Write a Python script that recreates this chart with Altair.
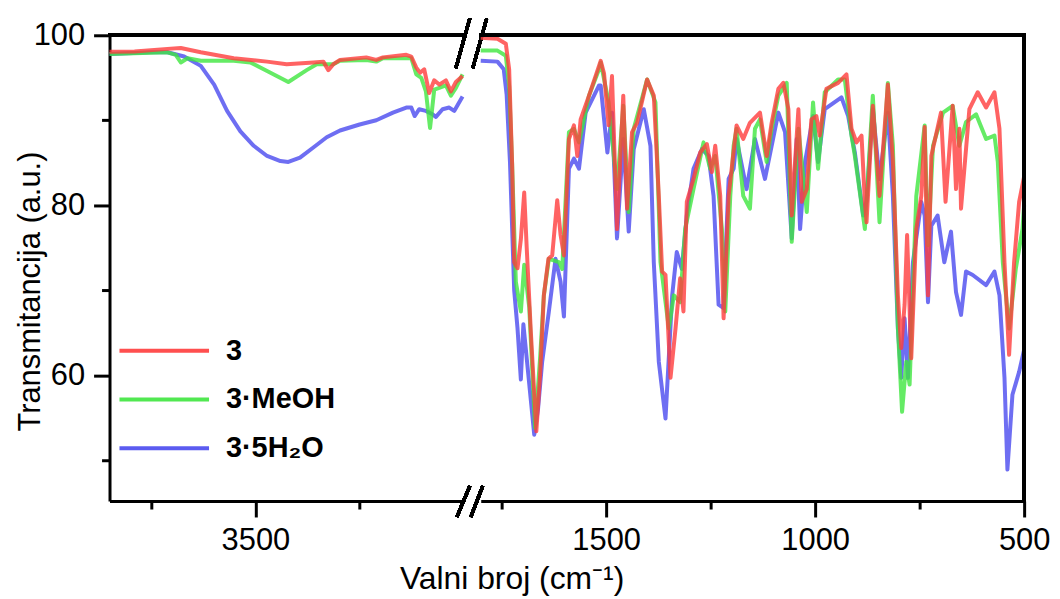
import altair as alt
import pandas as pd

FONT = "Liberation Sans"
SERIES = ["3", "3·MeOH", "3·5H₂O"]
COLORS = ["#ff3c3c", "#3fe63f", "#4a4aef"]

HI_DOM = [3850, 3000]
LO_DOM = [1800, 500]
Y_DOM = [45.2, 100]
HI_TICKS = [3750, 3500, 3250]
LO_TICKS = [1750, 1500, 1250, 1000, 750, 500]
Y_TICKS = [50, 60, 70, 80, 90, 100]

# ---- high wavenumber region (3850-3000 cm-1): (wavenumber, transmittance)
hi_red = [(3850, 98.05), (3790, 98.1), (3711, 98.4), (3679, 98.5), (3631, 98.0), (3552, 97.3),
          (3472, 96.9), (3425, 96.6), (3361, 96.8), (3337, 96.9), (3325, 95.9), (3313, 96.6),
          (3297, 97.1), (3234, 97.4), (3210, 97.1), (3194, 97.4), (3138, 97.7), (3126, 97.5),
          (3114, 96.2), (3105, 95.6), (3095, 96.0), (3083, 93.2), (3071, 94.7), (3059, 94.2),
          (3043, 94.7), (3031, 93.4), (3019, 94.5), (3003, 95.2)]
hi_green = [(3850, 97.8), (3711, 98.0), (3691, 97.7), (3679, 96.8), (3663, 97.3), (3631, 97.0),
            (3552, 97.0), (3512, 96.8), (3472, 95.8), (3421, 94.5), (3377, 95.9), (3353, 96.6),
            (3313, 96.6), (3297, 97.0), (3234, 97.1), (3210, 96.9), (3194, 97.3), (3126, 97.3),
            (3114, 95.4), (3102, 95.0), (3091, 93.4), (3081, 89.1), (3071, 93.6), (3059, 93.8),
            (3043, 94.1), (3031, 92.9), (3019, 93.8), (3003, 95.4)]
hi_blue = [(3850, 97.8), (3750, 98.0), (3711, 98.0), (3671, 97.5), (3631, 96.4), (3599, 94.2),
           (3568, 91.1), (3536, 88.7), (3504, 87.0), (3472, 85.8), (3440, 85.2), (3421, 85.1),
           (3393, 85.6), (3361, 86.8), (3329, 88.0), (3297, 88.8), (3250, 89.5), (3210, 90.0),
           (3170, 90.9), (3138, 91.5), (3126, 91.5), (3118, 90.5), (3107, 91.3), (3091, 91.1),
           (3075, 90.7), (3067, 90.4), (3051, 91.3), (3035, 91.5), (3023, 91.1), (3003, 92.8)]

# ---- fingerprint region (1800-500 cm-1)
lo_red = [(1800, 99.7), (1760, 99.6), (1740, 99.0), (1732, 96.0), (1725, 85.0), (1720, 73.3),
          (1712, 72.6), (1704, 76.0), (1696, 81.5), (1690, 75.0), (1680, 65.0), (1667, 53.4),
          (1658, 60.0), (1649, 69.4), (1638, 73.7), (1629, 74.1), (1617, 80.6), (1609, 76.5),
          (1601, 74.1), (1589, 87.8), (1577, 89.4), (1569, 85.8), (1561, 90.1), (1541, 92.9),
          (1517, 96.4), (1513, 97.0), (1505, 95.5), (1494, 89.4), (1486, 95.2), (1474, 77.2),
          (1459, 92.9), (1450, 79.6), (1438, 88.6), (1426, 89.7), (1402, 94.8), (1386, 92.9),
          (1374, 81.1), (1366, 72.2), (1358, 71.8), (1346, 59.7), (1334, 65.5), (1323, 71.4),
          (1315, 67.5), (1307, 80.4), (1291, 83.1), (1275, 86.2), (1259, 87.2), (1247, 83.9),
          (1239, 87.0), (1227, 81.1), (1219, 66.7), (1207, 81.1), (1188, 89.4), (1172, 87.8),
          (1156, 89.7), (1132, 90.9), (1116, 85.8), (1104, 89.7), (1088, 93.7), (1076, 94.4),
          (1064, 91.3), (1056, 78.8), (1048, 85.1), (1040, 91.3), (1032, 80.4), (1020, 81.9),
          (1009, 90.1), (997, 90.5), (989, 88.2), (973, 93.7), (945, 94.4), (925, 95.4),
          (913, 89.0), (901, 87.4), (889, 88.2), (881, 80.4), (877, 78.0), (862, 91.7),
          (846, 81.1), (826, 94.2), (814, 85.1), (802, 69.4), (794, 63.2), (786, 68.3),
          (780, 76.5), (770, 62.0), (758, 77.2), (746, 81.1), (738, 89.2), (730, 69.4),
          (722, 85.8), (699, 90.9), (688, 80.4), (671, 91.7), (663, 81.9), (655, 89.0),
          (651, 79.6), (631, 91.3), (611, 93.3), (591, 91.5), (571, 93.3), (559, 89.0),
          (547, 73.3), (536, 62.4), (524, 73.3), (512, 80.4), (500, 83.4)]
lo_green = [(1800, 98.2), (1760, 98.2), (1740, 97.6), (1732, 94.0), (1725, 85.0), (1716, 71.0),
            (1704, 67.5), (1696, 73.0), (1684, 68.0), (1670, 53.8), (1658, 62.0), (1649, 69.4),
            (1637, 73.7), (1613, 73.3), (1605, 72.5), (1589, 88.6), (1577, 89.0), (1565, 87.4),
            (1541, 92.9), (1517, 96.0), (1513, 96.8), (1494, 92.1), (1474, 81.9), (1459, 91.7),
            (1446, 79.2), (1434, 89.0), (1402, 94.8), (1382, 92.1), (1370, 73.3), (1350, 65.5),
            (1338, 69.4), (1323, 68.6), (1311, 77.2), (1291, 81.9), (1267, 87.4), (1251, 84.3),
            (1239, 85.8), (1223, 77.2), (1215, 67.5), (1203, 81.1), (1195, 87.0), (1188, 89.0),
            (1172, 81.1), (1156, 79.6), (1144, 89.0), (1132, 90.1), (1116, 85.1), (1104, 89.0),
            (1088, 92.9), (1068, 94.4), (1056, 75.7), (1040, 89.0), (1020, 79.2), (1005, 92.1),
            (993, 84.3), (977, 93.3), (945, 94.8), (929, 94.8), (913, 88.2), (905, 85.8),
            (881, 77.2), (862, 92.9), (846, 78.0), (826, 94.4), (814, 87.0), (802, 65.5),
            (792, 55.7), (782, 61.6), (774, 58.9), (758, 81.1), (738, 89.4), (730, 75.3),
            (718, 87.0), (694, 90.9), (671, 91.7), (655, 87.0), (639, 89.8), (615, 90.7),
            (591, 87.8), (571, 88.2), (563, 85.1), (551, 73.3), (536, 65.5), (520, 72.5),
            (504, 77.2), (500, 80.0)]
lo_blue = [(1800, 97.0), (1760, 96.9), (1745, 96.0), (1738, 93.0), (1730, 85.0), (1720, 70.0),
           (1712, 65.5), (1704, 59.5), (1698, 66.0), (1690, 62.0), (1680, 57.0), (1672, 53.0),
           (1663, 56.0), (1653, 61.6), (1637, 67.5), (1621, 73.7), (1609, 71.0), (1601, 66.9),
           (1589, 84.3), (1577, 85.5), (1565, 84.3), (1549, 90.9), (1517, 94.1), (1513, 94.1),
           (1497, 86.2), (1486, 90.9), (1474, 76.1), (1459, 87.8), (1446, 76.9), (1434, 86.6),
           (1410, 91.3), (1394, 87.0), (1386, 73.3), (1374, 61.6), (1358, 54.9), (1342, 69.4),
           (1331, 74.5), (1319, 72.5), (1307, 78.8), (1291, 84.3), (1271, 86.6), (1255, 85.8),
           (1243, 81.1), (1231, 68.3), (1219, 67.9), (1207, 83.1), (1195, 84.3), (1188, 87.8),
           (1164, 81.9), (1144, 87.8), (1120, 83.1), (1104, 87.0), (1088, 90.9), (1072, 88.6),
           (1056, 76.1), (1044, 87.8), (1036, 77.2), (1024, 85.1), (1005, 90.5), (993, 85.1),
           (977, 91.3), (937, 92.7), (921, 90.5), (905, 86.2), (885, 78.8), (877, 80.5),
           (862, 91.3), (846, 83.1), (826, 90.9), (814, 81.1), (802, 65.5), (794, 59.7),
           (786, 66.7), (778, 59.7), (766, 73.3), (746, 80.4), (738, 78.8), (730, 68.6),
           (722, 77.6), (707, 78.8), (691, 73.3), (675, 76.9), (663, 69.8), (651, 67.1),
           (639, 72.2), (623, 71.8), (591, 70.6), (571, 72.2), (559, 69.4), (547, 59.7),
           (540, 48.9), (528, 57.7), (512, 60.4), (500, 63.0)]


def frame(pairs, name):
    return pd.DataFrame({"wn": [p[0] for p in pairs], "T": [p[1] for p in pairs], "series": name})


hi_df = pd.concat([frame(hi_red, SERIES[0]), frame(hi_green, SERIES[1]), frame(hi_blue, SERIES[2])])
lo_df = pd.concat([frame(lo_red, SERIES[0]), frame(lo_green, SERIES[1]), frame(lo_blue, SERIES[2])])

W_HI, W_LO, H = 356, 546, 468
LINE_W = 3

legend = alt.Legend(
    title=None, orient="none", legendX=38, legendY=300, padding=0,
    symbolType="M-3,0H3", symbolSize=900, symbolStrokeWidth=4, symbolOpacity=0.9,
    labelFont=FONT, labelFontSize=29, labelFontWeight="bold", labelColor="black",
    labelOffset=45, rowPadding=17,
)
color = alt.Color("series:N", scale=alt.Scale(domain=SERIES, range=COLORS), legend=legend)
yscale = alt.Scale(domain=Y_DOM, nice=False, zero=False)

major_x = "datum.value % 500 === 0"
major_y = "datum.value % 20 === 0"


def x_axis(values, **kw):
    return alt.Axis(values=values, format="d", labelFlush=False,
                    labelExpr=f"{major_x} ? datum.label : ''",
                    tickSize={"condition": {"test": major_x, "value": 16}, "value": 8}, **kw)


def series_layers(df, x, y):
    layers = []
    for name in [SERIES[2], SERIES[1], SERIES[0]]:
        layers.append(
            alt.Chart(df).transform_filter(alt.datum.series == name)
            .mark_line(strokeWidth=4, opacity=0.8, strokeJoin="round")
            .encode(x=x, y=y, color=color)
        )
    return layers


x_hi = alt.X("wn:Q", scale=alt.Scale(domain=HI_DOM, nice=False, zero=False),
             axis=x_axis(HI_TICKS, title=""))
y_hi = alt.Y("T:Q", scale=yscale,
             axis=alt.Axis(values=Y_TICKS, format="d",
                           labelExpr=f"{major_y} ? datum.label : ''",
                           tickSize={"condition": {"test": major_y, "value": 16}, "value": 8},
                           title="Transmitancija (a.u.)", titleBaseline="alphabetic",
                           titleX=-70, titleY=257))

top_hi = alt.Chart(hi_df).mark_rule(color="black", strokeWidth=LINE_W, strokeCap="square").encode(
    x=alt.datum(HI_DOM[0]), x2=alt.datum(HI_DOM[1]), y=alt.datum(Y_DOM[1]))

slash = dict(color="black", strokeWidth=3)
breaks = [
    alt.Chart(hi_df).mark_rule(**slash).encode(x=alt.value(362), x2=alt.value(348), y=alt.value(-17), y2=alt.value(33)),
    alt.Chart(hi_df).mark_rule(**slash).encode(x=alt.value(379), x2=alt.value(365), y=alt.value(-17), y2=alt.value(33)),
    alt.Chart(hi_df).mark_rule(**slash).encode(x=alt.value(362), x2=alt.value(349), y=alt.value(453), y2=alt.value(484)),
    alt.Chart(hi_df).mark_rule(**slash).encode(x=alt.value(375), x2=alt.value(363), y=alt.value(453), y2=alt.value(484)),
]

left = alt.layer(*series_layers(hi_df, x_hi, y_hi), top_hi, *breaks).properties(width=W_HI, height=H)

x_lo = alt.X("wn:Q", scale=alt.Scale(domain=LO_DOM, nice=False, zero=False),
             axis=x_axis(LO_TICKS, title="Valni broj (cm⁻¹)", titleBaseline="alphabetic",
                         titleX=31, titleY=88, titleFontSize=32))
y_lo = alt.Y("T:Q", scale=yscale, axis=None)

top_lo = alt.Chart(lo_df).mark_rule(color="black", strokeWidth=LINE_W, strokeCap="square").encode(
    x=alt.datum(LO_DOM[0]), x2=alt.datum(LO_DOM[1]), y=alt.datum(Y_DOM[1]))
right_lo = alt.Chart(lo_df).mark_rule(color="black", strokeWidth=LINE_W, strokeCap="square").encode(
    x=alt.datum(LO_DOM[1]), y=alt.datum(Y_DOM[0]), y2=alt.datum(Y_DOM[1]))

right = alt.layer(*series_layers(lo_df, x_lo, y_lo), top_lo, right_lo).properties(width=W_LO, height=H)

chart = (
    alt.hconcat(left, right, spacing=17, bounds="flush")
    .properties(padding={"left": 7, "top": 7, "right": 2, "bottom": 2}, background="white")
    .configure_axis(
        domainColor="black", domainWidth=LINE_W, tickColor="black", tickWidth=LINE_W,
        labelFont=FONT, labelFontSize=31, labelColor="black", labelPadding=9,
        titleFont=FONT, titleFontSize=31, titleFontWeight="normal", titleColor="black",
        grid=False,
    )
    .configure_view(strokeWidth=0)
)

chart.save("out.html", embed_options={"renderer": "svg", "actions": False})
